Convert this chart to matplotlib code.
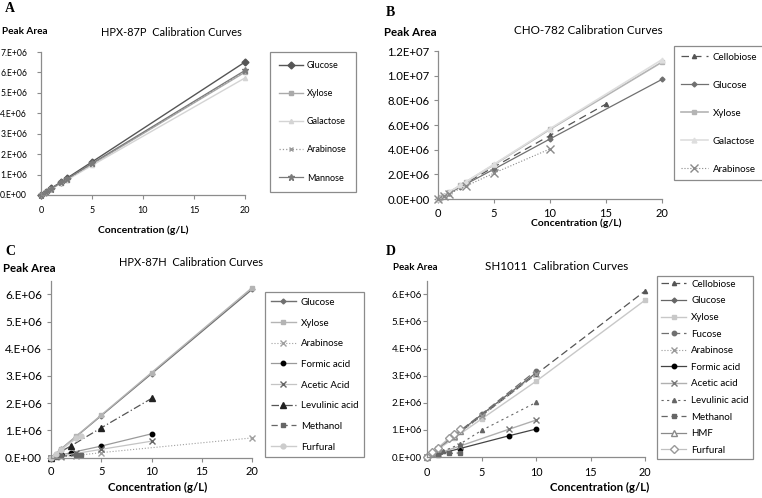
import matplotlib
matplotlib.use("Agg")
import matplotlib.pyplot as plt
from matplotlib.ticker import FuncFormatter

plt.rcParams['font.family'] = ['Lato', 'DejaVu Sans']

# ---------------- Data (Peak area in units of 1e6) ----------------
# Panel A: HPX-87P
a_x = [0, 0.5, 1, 2, 2.5, 5, 20]
a_glucose = [0, 0.16, 0.33, 0.65, 0.81, 1.62, 6.51]
a_xylose = [0, 0.15, 0.30, 0.60, 0.75, 1.50, 6.01]
a_galactose = [0, 0.14, 0.29, 0.58, 0.72, 1.45, 5.73]
a_arabinose = [0, 0.15, 0.30, 0.61, 0.76, 1.52, 6.05]
a_mannose = [0, 0.15, 0.31, 0.62, 0.77, 1.55, 6.10]

# Panel B: CHO-782
b_cello_x = [0, 0.5, 1, 2.5, 5, 10, 15]
b_cello = [0, 0.26, 0.52, 1.3, 2.6, 5.15, 7.7]
b_x = [0, 0.25, 0.5, 1, 2, 2.5, 5, 10, 20]
b_glucose = [0, 0.12, 0.24, 0.48, 0.97, 1.21, 2.42, 4.87, 9.7]
b_xylose = [0, 0.14, 0.28, 0.55, 1.1, 1.38, 2.78, 5.65, 11.1]
b_galactose = [0, 0.14, 0.28, 0.56, 1.12, 1.4, 2.82, 5.7, 11.3]
b_arab_x = [0, 0.5, 1, 2.5, 5, 10]
b_arabinose = [0, 0.21, 0.42, 1.05, 2.1, 4.06]

# Panel C: HPX-87H
c_gx = [0, 1, 2.5, 5, 10, 20]
c_glucose = [0, 0.31, 0.77, 1.54, 3.08, 6.18]
c_xylose = [0, 0.31, 0.78, 1.56, 3.12, 6.24]
c_arab_x = [0, 1, 2.5, 5, 20]
c_arabinose = [0, 0.03, 0.07, 0.18, 0.72]
c_acid_x = [0, 1, 2, 5, 10]
c_formic = [0, 0.09, 0.18, 0.42, 0.87]
c_acetic_x = [0, 1, 2.5, 5, 10]
c_acetic = [0, 0.06, 0.15, 0.3, 0.6]
c_levulinic = [0, 0.22, 0.43, 1.09, 2.17]
c_meth_x = [0, 0.5, 1, 2.5, 3]
c_methanol = [0, 0.02, 0.04, 0.1, 0.11]
c_furfural = [0, 0.14, 0.28, 0.7, 0.78]

# Panel D: SH1011
d_cello_x = [0, 1, 2.5, 5, 10, 20]
d_cello = [0, 0.3, 0.76, 1.52, 3.05, 6.12]
d_glu_x = [0, 0.5, 1, 2.5, 5, 10]
d_glucose = [0, 0.16, 0.31, 0.78, 1.56, 3.1]
d_xyl_x = [0, 0.5, 1, 2.5, 5, 10, 20]
d_xylose = [0, 0.14, 0.28, 0.7, 1.4, 2.79, 5.78]
d_fuc_x = [0, 1, 2.5, 5, 10]
d_fucose = [0, 0.32, 0.8, 1.58, 3.18]
d_arabinose = [0, 0.3, 0.75, 1.5, 3.05]
d_formic_x = [0, 3, 7.5, 10]
d_formic = [0, 0.31, 0.78, 1.03]
d_acetic_x = [0, 1, 3, 7.5, 10]
d_acetic = [0, 0.13, 0.4, 1.02, 1.36]
d_lev_x = [0, 1.5, 3, 5, 10]
d_levulinic = [0, 0.22, 0.47, 0.98, 2.01]
d_meth_x = [0, 1, 2, 3]
d_methanol = [0, 0.08, 0.13, 0.15]
d_hmf_x = [0, 0.5, 1, 2.5, 3]
d_hmf = [0, 0.16, 0.32, 0.78, 0.95]
d_furf_x = [0, 0.5, 1, 2, 2.5, 3]
d_furfural = [0, 0.17, 0.34, 0.69, 0.86, 1.03]

xticks = [0, 5, 10, 15, 20]

W, H = 762, 498
fig = plt.figure(figsize=(W / 100, H / 100), dpi=100)

def fx(px):
    return px / W

def fy(py):
    return 1 - py / H

def make_ax(l, r, b, t, yfs, xfs, ypad, xpad):
    ax = fig.add_axes([fx(l), fy(b), fx(r - l), fy(t) - fy(b)])
    for s in ('top', 'right'):
        ax.spines[s].set_visible(False)
    for s in ('left', 'bottom'):
        ax.spines[s].set_color('#8c8c8c')
        ax.spines[s].set_linewidth(0.9)
    ax.tick_params(colors='#8c8c8c', labelcolor='black',
                   length=3, width=0.8, direction='out')
    ax.tick_params(axis='y', labelsize=yfs, pad=ypad)
    ax.tick_params(axis='x', labelsize=xfs, pad=xpad)
    ax.set_xlim(0, 20)
    ax.set_xticks(xticks)
    ax.patch.set_alpha(0)
    return ax

fmt_short = FuncFormatter(lambda v, p: '{:.0E}'.format(v).replace('E', '.E'))
fmt_long = FuncFormatter(lambda v, p: '{:.1E}'.format(v))

def sc(vals):
    return [v * 1e6 for v in vals]

def plot(ax, x, y, **kw):
    ax.plot(x, sc(y), clip_on=False, **kw)

def legend(ax, l, t, spacing, fs, bpad, hl=2.6):
    leg = ax.legend(loc='upper left', bbox_to_anchor=(fx(l), fy(t)),
                    bbox_transform=fig.transFigure, fontsize=fs,
                    frameon=True, fancybox=False, borderaxespad=0,
                    labelspacing=spacing, handlelength=hl, handletextpad=0.5,
                    borderpad=bpad)
    leg.get_frame().set_edgecolor('#6e6e6e')
    leg.get_frame().set_linewidth(0.9)
    return leg

def labels(letter, lx, ly, title, tx, ty, tfs, pax, pay, pfs, cx, cy, cfs):
    fig.text(fx(lx), fy(ly), letter, family='Liberation Serif', weight='bold',
             fontsize=10, ha='left', va='center')
    fig.text(fx(tx), fy(ty), title, fontsize=tfs, ha='center', va='center')
    fig.text(fx(pax), fy(pay), 'Peak Area', fontsize=pfs, weight='bold',
             ha='left', va='center')
    fig.text(fx(cx), fy(cy), 'Concentration (g/L)', fontsize=cfs,
             weight='bold', ha='center', va='center')

# ---------------- Panel A ----------------
axA = make_ax(41, 245, 195, 52, 6.2, 6.5, 7, 5)
axA.set_ylim(0, 7e6)
axA.set_yticks([i * 1e6 for i in range(8)])
axA.yaxis.set_major_formatter(fmt_short)
plot(axA, a_x, a_glucose, color='#555555', lw=1.0, marker='D', ms=3.5, label='Glucose')
plot(axA, a_x, a_xylose, color='#aaaaaa', lw=1.0, marker='s', ms=3, label='Xylose')
plot(axA, a_x, a_galactose, color='#d4d4d4', lw=1.0, marker='^', ms=3, label='Galactose')
plot(axA, a_x, a_arabinose, color='#9a9a9a', lw=0.9, ls=':', marker='x', ms=3.5, label='Arabinose')
plot(axA, a_x, a_mannose, color='#7a7a7a', lw=0.9, marker='*', ms=4.5, label='Mannose')
legend(axA, 270, 52, 2.12, 6.5, 1.0)
labels('A', 5, 9, 'HPX-87P  Calibration Curves', 171, 32, 7.9,
       2, 31, 7.2, 143, 230, 7.5)

# ---------------- Panel B ----------------
axB = make_ax(438, 662, 199, 51, 8.2, 8, 3, 3.5)
axB.set_ylim(0, 1.2e7)
axB.set_yticks([i * 2e6 for i in range(7)])
axB.yaxis.set_major_formatter(fmt_long)
plot(axB, b_cello_x, b_cello, color='#555555', lw=0.9, ls=(0, (6, 4)), marker='^', ms=3, label='Cellobiose')
plot(axB, b_x, b_glucose, color='#707070', lw=0.9, marker='D', ms=2.5, label='Glucose')
plot(axB, b_x, b_xylose, color='#b4b4b4', lw=1.2, marker='s', ms=3.5, label='Xylose')
plot(axB, b_x, b_galactose, color='#dedede', lw=1.2, marker='^', ms=3.5, label='Galactose')
plot(axB, b_arab_x, b_arabinose, color='#8a8a8a', lw=0.8, ls=':', marker='x', ms=6, label='Arabinose')
legend(axB, 674, 46, 1.95, 7, 0.7, hl=2.8)
labels('B', 386, 13, 'CHO-782 Calibration Curves', 588, 31, 8.4,
       384, 32, 8.3, 576, 223, 7.5)

# ---------------- Panel C ----------------
axC = make_ax(51, 252, 457.5, 280.7, 8.5, 8, 3.5, 3)
axC.set_ylim(0, 6.5e6)
axC.set_yticks([i * 1e6 for i in range(7)])
axC.yaxis.set_major_formatter(fmt_short)
plot(axC, c_gx, c_glucose, color='#707070', lw=1.0, marker='D', ms=2.5, label='Glucose')
plot(axC, c_gx, c_xylose, color='#b4b4b4', lw=1.0, marker='s', ms=3.5, label='Xylose')
plot(axC, c_arab_x, c_arabinose, color='#a0a0a0', lw=0.8, ls=':', marker='x', ms=4, label='Arabinose')
plot(axC, c_acid_x, c_formic, color='#9a9a9a', lw=0.9, marker='o', ms=3.2, mfc='black', mec='black', label='Formic acid')
plot(axC, c_acetic_x, c_acetic, color='#c4c4c4', lw=0.9, marker='x', ms=4, mec='#666666', label='Acetic Acid')
plot(axC, c_acid_x, c_levulinic, color='#555555', lw=0.9, ls=(0, (6, 2, 1, 2)), marker='^', ms=3.8, mfc='#222222', mec='#222222', label='Levulinic acid')
plot(axC, c_meth_x, c_methanol, color='#666666', lw=0.9, ls=(0, (5, 3)), marker='s', ms=3.2, label='Methanol')
plot(axC, c_meth_x, c_furfural, color='#cccccc', lw=1.0, marker='o', ms=3.5, label='Furfural')
legend(axC, 265, 292, 1.2, 7, 0.6)
labels('C', 5, 251, 'HPX-87H  Calibration Curves', 191, 262, 8.0,
       3, 268, 8.3, 158, 487, 8.2)

# ---------------- Panel D ----------------
axD = make_ax(427, 645, 457, 280.7, 7, 7.8, 0.8, 4)
axD.set_ylim(0, 6.5e6)
axD.set_yticks([i * 1e6 for i in range(7)])
axD.yaxis.set_major_formatter(fmt_short)
plot(axD, d_cello_x, d_cello, color='#555555', lw=0.9, ls=(0, (6, 3)), marker='^', ms=3, label='Cellobiose')
plot(axD, d_glu_x, d_glucose, color='#666666', lw=0.9, marker='D', ms=2.5, label='Glucose')
plot(axD, d_xyl_x, d_xylose, color='#c8c8c8', lw=1.0, marker='s', ms=3.2, label='Xylose')
plot(axD, d_fuc_x, d_fucose, color='#707070', lw=0.9, ls=(0, (6, 3)), marker='o', ms=3.2, label='Fucose')
plot(axD, d_fuc_x, d_arabinose, color='#999999', lw=0.8, ls=':', marker='x', ms=3.8, label='Arabinose')
plot(axD, d_formic_x, d_formic, color='#444444', lw=0.9, marker='o', ms=3.2, mfc='black', mec='black', label='Formic acid')
plot(axD, d_acetic_x, d_acetic, color='#b0b0b0', lw=1.0, marker='x', ms=3.8, mec='#777777', label='Acetic acid')
plot(axD, d_lev_x, d_levulinic, color='#666666', lw=0.8, ls=(0, (2, 3)), marker='^', ms=3, label='Levulinic acid')
plot(axD, d_meth_x, d_methanol, color='#666666', lw=0.9, ls=(0, (5, 3)), marker='s', ms=3.2, label='Methanol')
plot(axD, d_hmf_x, d_hmf, color='#8a8a8a', lw=0.9, marker='^', ms=4.5, mfc='white', label='HMF')
plot(axD, d_furf_x, d_furfural, color='#c0c0c0', lw=0.9, marker='D', ms=4, mfc='white', mec='#999999', label='Furfural')
legend(axD, 657, 276, 0.78, 7, 0.4)
labels('D', 386, 251, 'SH1011  Calibration Curves', 557, 266, 8.4,
       393, 267, 7.0, 600, 487, 8.2)

fig.savefig('out.png', dpi=100)
